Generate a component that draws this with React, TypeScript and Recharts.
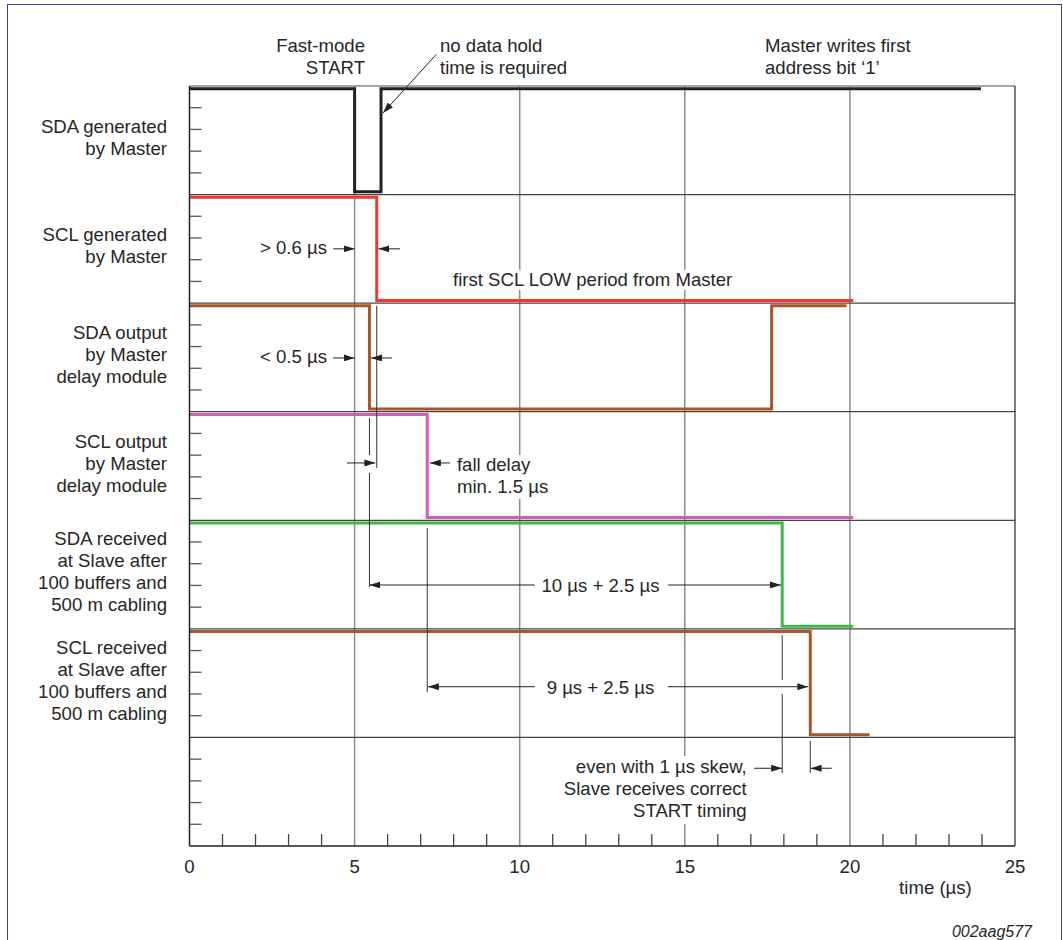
import React from "react";
import { LineChart, Line, XAxis, YAxis, ReferenceLine, ReferenceDot } from "recharts";

// time axis (µs)
const X_TICKS = [0, 1, 2, 3, 4, 5, 6, 7, 8, 9, 10, 11, 12, 13, 14, 15, 16, 17, 18, 19, 20, 21, 22, 23, 24, 25];
const X_LABELS = [0, 5, 10, 15, 20, 25];
const GRID_X = [5, 10, 15, 20];
const BAND_LINES = [1, 2, 3, 4, 5, 6];
const Y_TICKS = [
  0.2, 0.4, 0.6, 0.8, 1.2, 1.4, 1.6, 1.8, 2.2, 2.4, 2.6, 2.8, 3.2, 3.4,
  3.6, 3.8, 4.2, 4.4, 4.6, 4.8, 5.2, 5.4, 5.6, 5.8, 6.2, 6.4, 6.6, 6.8,
];

const ROW_LABELS = [
  ["SDA generated", "by Master"],
  ["SCL generated", "by Master"],
  ["SDA output", "by Master", "delay module"],
  ["SCL output", "by Master", "delay module"],
  ["SDA received", "at Slave after", "100 buffers and", "500 m cabling"],
  ["SCL received", "at Slave after", "100 buffers and", "500 m cabling"],
];

// edge times (µs) and logic level after each edge
const SDA_MASTER_T = [0, 5.0, 5.8, 23.97];
const SDA_MASTER_L = [1, 0, 1, 1];
const SCL_MASTER_T = [0, 5.67, 20.1];
const SCL_MASTER_L = [1, 0, 0];
const SDA_OUT_T = [0, 5.45, 17.63, 19.9];
const SDA_OUT_L = [1, 0, 1, 1];
const SCL_OUT_T = [0, 7.2, 20.1];
const SCL_OUT_L = [1, 0, 0];
const SDA_RX_T = [0, 17.95, 20.1];
const SDA_RX_L = [1, 0, 0];
const SCL_RX_T = [0, 18.8, 20.6];
const SCL_RX_L = [1, 0, 0];

const SIGNAL_COLORS = ["#222222", "#ee3a2c", "#a9562b", "#cc5fb6", "#43b649", "#a9562b"];

const toRow = (row: number, times: number[], levels: number[]) =>
  times.map((t, i) => ({ t, v: levels[i] ? 7 - row - 0.025 : 6 - row + 0.025 }));

const SIGNALS = [
  toRow(0, SDA_MASTER_T, SDA_MASTER_L),
  toRow(1, SCL_MASTER_T, SCL_MASTER_L),
  toRow(2, SDA_OUT_T, SDA_OUT_L),
  toRow(3, SCL_OUT_T, SCL_OUT_L),
  toRow(4, SDA_RX_T, SDA_RX_L),
  toRow(5, SCL_RX_T, SCL_RX_L),
];

// annotation arrows: x1, y1 -> tip x2, y2
const ARROWS = [
  [7.47, 7.29, 5.86, 6.751],
  [4.35, 5.5, 5.0, 5.5],
  [6.375, 5.5, 5.72, 5.5],
  [4.35, 4.495, 5.0, 4.495],
  [6.13, 4.495, 5.5, 4.495],
  [4.77, 3.528, 5.63, 3.528],
  [7.89, 3.528, 7.28, 3.528],
  [10.46, 2.404, 5.45, 2.404],
  [14.49, 2.404, 17.91, 2.404],
  [10.46, 1.467, 7.22, 1.467],
  [14.49, 1.467, 18.74, 1.467],
  [17.1, 0.716, 17.95, 0.716],
  [19.45, 0.716, 18.81, 0.716],
];

// thin leader lines: x, y from, y to
const LEADERS = [
  [5.67, 4.974, 3.482],
  [5.45, 3.942, 3.601],
  [5.45, 3.436, 2.385],
  [7.2, 2.929, 1.418],
  [17.95, 1.943, 1.529],
  [17.95, 1.4, 0.672],
  [18.8, 0.967, 0.672],
];

const NOTES = [
  { x: 5.315, y: 7.313, anchor: "end", lines: ["Fast-mode", "START"] },
  { x: 7.586, y: 7.313, anchor: "start", lines: ["no data hold", "time is required"] },
  { x: 17.43, y: 7.313, anchor: "start", lines: ["Master writes first", "address bit \u20181\u2019"] },
  { x: 4.164, y: 5.453, anchor: "end", lines: ["> 0.6 \u00b5s"] },
  { x: 7.98, y: 5.158, anchor: "start", lines: ["first SCL LOW period from Master"], halo: 8 },
  { x: 4.164, y: 4.449, anchor: "end", lines: ["< 0.5 \u00b5s"] },
  { x: 8.1, y: 3.454, anchor: "start", lines: ["fall delay", "min. 1.5 \u00b5s"], halo: 12 },
  { x: 12.447, y: 2.339, anchor: "middle", lines: ["10 \u00b5s + 2.5 \u00b5s"] },
  { x: 12.447, y: 1.4, anchor: "middle", lines: ["9 \u00b5s + 2.5 \u00b5s"] },
  { x: 16.875, y: 0.675, anchor: "end", lines: ["even with 1 \u00b5s skew,", "Slave receives correct", "START timing"], halo: 14 },
  { x: 21.49, y: -0.442, anchor: "start", lines: ["time (\u00b5s)"] },
];

const FONT = "'Liberation Sans', Arial, Helvetica, sans-serif";
const INK = "#262626";
const FS = 18.6;

const XTick = (p: any) => {
  const v = p.payload.value;
  if (X_LABELS.includes(v)) {
    return (
      <text x={p.x} y={p.y + 26.5} textAnchor="middle" fontSize={FS} fontFamily={FONT} fill={INK}>
        {v}
      </text>
    );
  }
  return <line x1={p.x} x2={p.x} y1={p.y} y2={p.y - 12} stroke="#444" strokeWidth={1.3} />;
};

const YTickLeft = (p: any) => (
  <line x1={p.x} x2={p.x + 12} y1={p.y} y2={p.y} stroke="#555" strokeWidth={1.3} />
);
const YTickRight = (p: any) => (
  <line x1={p.x} x2={p.x - 12} y1={p.y} y2={p.y} stroke="#555" strokeWidth={1.3} />
);

const noteShape = (lines: string[], anchor: string, halo?: number, centred?: boolean, style?: any) =>
  (p: any) => {
    const y0 = centred ? p.cy - (lines.length - 1) * 11 + 3.5 : p.cy;
    return (
      <text
        x={p.cx}
        y={y0}
        textAnchor={anchor}
        fontSize={FS}
        fontFamily={FONT}
        fill={INK}
        stroke={halo ? "#fff" : "none"}
        strokeWidth={halo || 0}
        strokeLinejoin="round"
        style={{ paintOrder: "stroke", ...style }}
      >
        {lines.map((l, i) => (
          <tspan key={i} x={p.cx} dy={i ? 22 : 0}>
            {l}
          </tspan>
        ))}
      </text>
    );
  };

export default function App() {
  return (
    <div style={{ position: "absolute", left: 0, top: 0, width: 1063, height: 940, overflow: "hidden", background: "#fff" }}>
      <svg width={0} height={0} style={{ position: "absolute" }}>
        <defs>
          <marker id="arrowHead" viewBox="0 0 11 7" refX={11} refY={3.5} markerWidth={11} markerHeight={7} markerUnits="userSpaceOnUse" orient="auto">
            <path d="M0,0 L11,3.5 L0,7 z" fill="#222" />
          </marker>
        </defs>
      </svg>
      <div
        style={{
          position: "absolute",
          left: 7,
          top: 4,
          width: 1055,
          height: 1000,
          border: "1.5px solid #5b2d8e",
          boxSizing: "border-box",
        }}
      />
      <div style={{ position: "absolute", left: 0, top: 0 }}>
        <LineChart width={1063} height={940} margin={{ top: 86, right: 47, bottom: 93, left: 188.5 }}>
          <XAxis
            dataKey="t"
            type="number"
            domain={[0, 25]}
            ticks={X_TICKS}
            interval={0}
            height={1}
            tickSize={0}
            tickMargin={0}
            tickLine={false}
            tick={XTick}
            axisLine={{ stroke: "#222", strokeWidth: 1.5 }}
          />
          <YAxis
            type="number"
            domain={[0, 7]}
            ticks={Y_TICKS}
            interval={0}
            width={1}
            tickSize={0}
            tickMargin={0}
            tickLine={false}
            tick={YTickLeft}
            axisLine={{ stroke: "#222", strokeWidth: 1.5 }}
          />
          <YAxis
            yAxisId="r"
            orientation="right"
            type="number"
            domain={[0, 7]}
            ticks={Y_TICKS}
            interval={0}
            width={1}
            tickSize={0}
            tickMargin={0}
            tickLine={false}
            tick={YTickRight}
            axisLine={{ stroke: "#333", strokeWidth: 1.3 }}
          />
          {GRID_X.map((x) => (
            <ReferenceLine key={"gx" + x} x={x} stroke="#8c8c8c" strokeWidth={1.5} />
          ))}
          {BAND_LINES.map((y) => (
            <ReferenceLine key={"gy" + y} y={y} stroke="#444" strokeWidth={1.3} />
          ))}
          <ReferenceLine y={7} stroke="#888" strokeWidth={1.3} />
          {NOTES.filter((n) => n.halo).map((n, i) => (
            <ReferenceDot key={"nh" + i} x={n.x} y={n.y} r={0} ifOverflow="visible" shape={noteShape(n.lines, n.anchor, n.halo)} />
          ))}
          {SIGNALS.map((data, i) => (
            <Line
              key={"s" + i}
              data={data}
              dataKey="v"
              type="stepAfter"
              stroke={SIGNAL_COLORS[i]}
              strokeWidth={3}
              dot={false}
              activeDot={false}
              isAnimationActive={false}
            />
          ))}
          {LEADERS.map(([x, y1, y2], i) => (
            <ReferenceLine key={"ld" + i} segment={[{ x, y: y1 }, { x, y: y2 }]} stroke="#333" strokeWidth={1} ifOverflow="visible" />
          ))}
          {ARROWS.map(([x1, y1, x2, y2], i) => (
            <ReferenceLine
              key={"ar" + i}
              segment={[{ x: x1, y: y1 }, { x: x2, y: y2 }]}
              stroke="#222"
              strokeWidth={1}
              ifOverflow="visible"
              markerEnd="url(#arrowHead)"
            />
          ))}
          {NOTES.filter((n) => !n.halo).map((n, i) => (
            <ReferenceDot key={"n" + i} x={n.x} y={n.y} r={0} ifOverflow="visible" shape={noteShape(n.lines, n.anchor)} />
          ))}
          {ROW_LABELS.map((lines, k) => (
            <ReferenceDot key={"row" + k} x={-0.681} y={6.5 - k} r={0} ifOverflow="visible" shape={noteShape(lines, "end", 0, true)} />
          ))}
          <ReferenceDot
            x={25.515}
            y={-0.838}
            r={0}
            ifOverflow="visible"
            shape={noteShape(["002aag577"], "end", 0, false, { fontSize: 16, fontStyle: "italic" })}
          />
        </LineChart>
      </div>
    </div>
  );
}
